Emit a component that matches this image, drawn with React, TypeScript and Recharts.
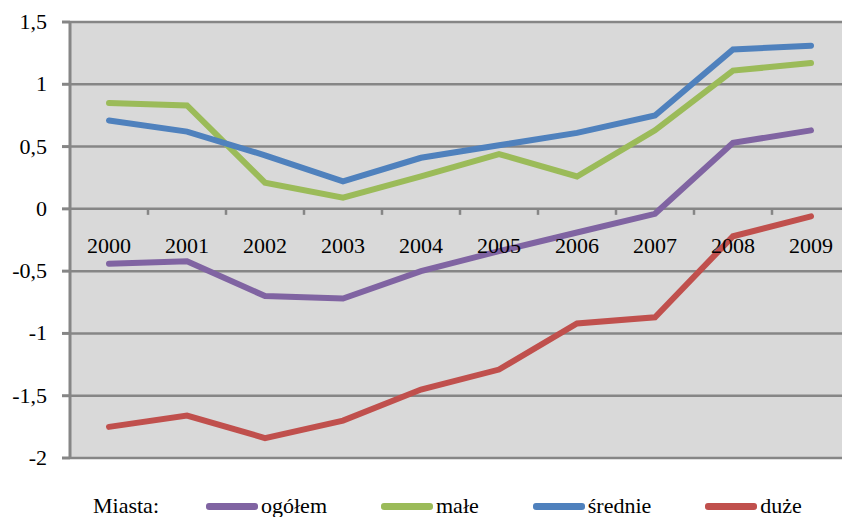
import React from "react";
import { LineChart, Line, XAxis, YAxis, CartesianGrid } from "recharts";

// Years on the category axis
const years = ["2000", "2001", "2002", "2003", "2004", "2005", "2006", "2007", "2008", "2009"];

// Series values
const ogolem = [-0.44, -0.42, -0.7, -0.72, -0.5, -0.34, -0.19, -0.04, 0.53, 0.63];
const male = [0.85, 0.83, 0.21, 0.09, 0.26, 0.44, 0.26, 0.63, 1.11, 1.17];
const srednie = [0.71, 0.62, 0.43, 0.22, 0.41, 0.51, 0.61, 0.75, 1.28, 1.31];
const duze = [-1.75, -1.66, -1.84, -1.7, -1.45, -1.29, -0.92, -0.87, -0.22, -0.06];

const yTicks = [-2, -1.5, -1, -0.5, 0, 0.5, 1, 1.5];

const series = [
  { key: "ogolem", name: "ogółem", color: "#8064A2" },
  { key: "male", name: "małe", color: "#9BBB59" },
  { key: "srednie", name: "średnie", color: "#4F81BD" },
  { key: "duze", name: "duże", color: "#C0504D" },
];

const data = years.map((year, i) => ({
  year,
  ogolem: ogolem[i],
  male: male[i],
  srednie: srednie[i],
  duze: duze[i],
}));

const WIDTH = 856;
const HEIGHT = 517;
const MARGIN = { top: 22, right: 6, bottom: 0, left: 0 };
const Y_AXIS_W = 70;
const X_AXIS_H = 59;
const Y_MIN = -2;
const Y_MAX = 1.5;
const FONT = "'Liberation Serif', 'DejaVu Serif', serif";
const FONT_SIZE = 22;
const GRID = "#868686";

const plotTop = MARGIN.top;
const plotHeight = HEIGHT - MARGIN.top - MARGIN.bottom - X_AXIS_H;
const plotWidth = WIDTH - MARGIN.left - MARGIN.right - Y_AXIS_W;
const zeroY = plotTop + ((Y_MAX - 0) / (Y_MAX - Y_MIN)) * plotHeight;
const band = plotWidth / years.length;

// Category labels sit under the zero line, with tick marks between categories
function YearTick(props: any) {
  const { x, payload, index } = props;
  return (
    <g>
      {index > 0 && (
        <line x1={x - band / 2} x2={x - band / 2} y1={zeroY} y2={zeroY + 6} stroke={GRID} strokeWidth={2.5} />
      )}
      <text x={x} y={zeroY + 44} textAnchor="middle" style={{ fontFamily: FONT, fontSize: FONT_SIZE }} fill="#000">
        {payload.value}
      </text>
    </g>
  );
}

function ValueTick(props: any) {
  const { x, y, payload } = props;
  return (
    <text x={x} y={y + 7} textAnchor="end" style={{ fontFamily: FONT, fontSize: FONT_SIZE }} fill="#000">
      {String(payload.value).replace(".", ",")}
    </text>
  );
}

export default function App() {
  return (
    <div style={{ position: "absolute", left: 0, top: 0, width: 842, height: 517, overflow: "hidden", background: "#fff" }}>
      <LineChart width={WIDTH} height={HEIGHT} data={data} margin={MARGIN}>
        <CartesianGrid vertical={false} stroke={GRID} strokeWidth={2.5} fill="#D9D9D9" />
        <XAxis
          dataKey="year"
          axisLine={false}
          tickLine={false}
          height={X_AXIS_H}
          padding={{ left: band / 2, right: band / 2 }}
          tick={<YearTick />}
          interval={0}
        />
        <YAxis
          domain={[Y_MIN, Y_MAX]}
          ticks={yTicks}
          width={Y_AXIS_W}
          axisLine={{ stroke: GRID, strokeWidth: 3 }}
          tickLine={{ stroke: GRID, strokeWidth: 3 }}
          tickSize={8}
          tickMargin={15}
          tick={<ValueTick />}
        />
        {series.map((s) => (
          <Line
            key={s.key}
            type="linear"
            dataKey={s.key}
            name={s.name}
            stroke={s.color}
            strokeWidth={6}
            strokeLinecap="round"
            dot={false}
            activeDot={false}
            isAnimationActive={false}
          />
        ))}
      </LineChart>
      <div
        style={{
          position: "absolute",
          left: 93,
          top: 493,
          display: "flex",
          alignItems: "center",
          fontFamily: FONT,
          fontSize: FONT_SIZE,
          color: "#000",
          lineHeight: "26px",
          whiteSpace: "nowrap",
        }}
      >
        <span style={{ marginRight: 47 }}>Miasta:</span>
        {series.map((s) => (
          <span key={s.key} style={{ display: "flex", alignItems: "center", marginRight: 54 }}>
            <span style={{ display: "inline-block", width: 52, height: 7, borderRadius: 3, background: s.color }} />
            <span style={{ marginLeft: 3 }}>{s.name}</span>
          </span>
        ))}
      </div>
    </div>
  );
}
